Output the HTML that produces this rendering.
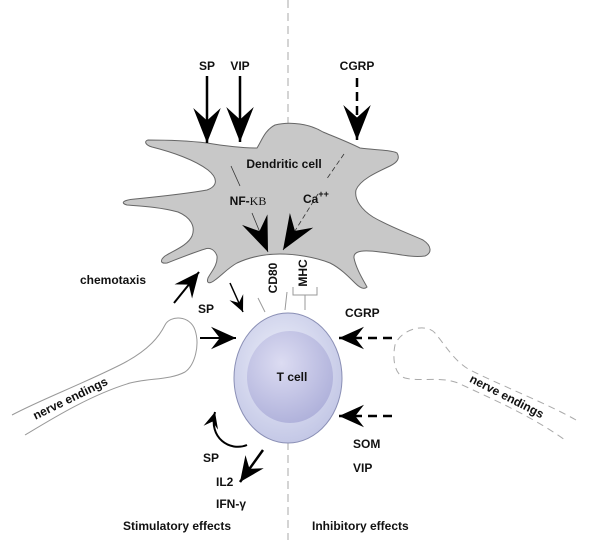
<!DOCTYPE html>
<html><head><style>
body{margin:0;background:#fff;}
svg{display:block;}
text{font-family:"Liberation Sans",sans-serif;font-weight:bold;font-size:12px;fill:#111;}
</style></head><body>
<svg width="600" height="551" viewBox="0 0 600 551" xmlns="http://www.w3.org/2000/svg">
<defs>
<marker id="big" markerUnits="userSpaceOnUse" markerWidth="40" markerHeight="40" refX="0" refY="0" orient="auto" viewBox="-30 -15 32 30">
<path d="M0,0 L-28,-11 L-18,0 L-28,11 Z" fill="#000"/>
</marker>
<marker id="med" markerUnits="userSpaceOnUse" markerWidth="30" markerHeight="30" refX="0" refY="0" orient="auto" viewBox="-22 -12 24 24">
<path d="M0,0 L-20,-9 L-13,0 L-20,9 Z" fill="#000"/>
</marker>
<marker id="sm" markerUnits="userSpaceOnUse" markerWidth="20" markerHeight="20" refX="0" refY="0" orient="auto" viewBox="-14 -8 16 16">
<path d="M0,0 L-13,-6 L-8,0 L-13,6 Z" fill="#000"/>
</marker>
<radialGradient id="tg" cx="0.45" cy="0.4" r="0.6">
<stop offset="0" stop-color="#eef0fa"/><stop offset="1" stop-color="#c4c8e6"/>
</radialGradient>
<radialGradient id="tg2" cx="0.4" cy="0.35" r="0.7">
<stop offset="0" stop-color="#dcdcf2"/><stop offset="1" stop-color="#aeb0da"/>
</radialGradient>
</defs>

<line x1="288" y1="0" x2="288" y2="125" stroke="#aaa" stroke-width="1" stroke-dasharray="8,5"/>
<line x1="288" y1="442" x2="288" y2="540" stroke="#aaa" stroke-width="1" stroke-dasharray="8,5"/>

<!-- dendritic cell -->
<path d="M148,140 C170,140 190,141 207,143 C225,146 245,148 257,148 C262,140 265,130 275,125 C290,121 310,124 323,132 C335,137 348,142 360,148 C375,150 392,150 397,153 C400,158 398,162 390,166 C375,173 360,180 356,190 C354,200 362,210 373,217 C390,227 410,234 423,240 C432,246 432,253 425,256 C410,258 395,253 380,252 C365,250 353,250 354,258 C356,268 362,278 367,287 C364,290 360,288 355,283 C348,276 340,268 330,263 C315,257 295,254 280,254 C265,254 250,257 237,263 C228,268 222,275 215,280 C210,284 206,284 208,278 C211,272 218,265 217,256 C215,250 210,247 205,249 C195,252 180,258 167,263 C160,264 160,260 165,256 C175,250 188,245 192,236 C196,226 190,217 178,212 C160,207 140,206 127,205 C120,203 123,200 135,199 C155,197 185,194 207,190 C218,186 218,178 208,170 C195,160 172,152 152,147 C145,145 144,141 148,140 Z" fill="#c8c8c8" stroke="#666" stroke-width="1"/>

<line x1="207" y1="76" x2="207" y2="143" stroke="#000" stroke-width="2.5" marker-end="url(#big)"/>
<line x1="240" y1="76" x2="240" y2="142" stroke="#000" stroke-width="2.5" marker-end="url(#big)"/>
<line x1="357" y1="78" x2="357" y2="140" stroke="#000" stroke-width="2.5" stroke-dasharray="9,5" marker-end="url(#big)"/>
<text x="207" y="70" text-anchor="middle">SP</text>
<text x="240" y="70" text-anchor="middle">VIP</text>
<text x="357" y="70" text-anchor="middle">CGRP</text>

<text x="284" y="168" text-anchor="middle" font-size="13">Dendritic cell</text>
<line x1="231" y1="166" x2="240" y2="186" stroke="#333" stroke-width="0.8"/>
<text x="248" y="205" text-anchor="middle">NF-<tspan font-family="Liberation Serif" font-weight="normal">KB</tspan></text>
<line x1="252" y1="213" x2="268" y2="252" stroke="#333" stroke-width="0.8" marker-end="url(#big)"/>
<text x="303" y="203">Ca<tspan dy="-6" font-size="9">++</tspan></text>
<line x1="344" y1="154" x2="326" y2="180" stroke="#333" stroke-width="0.8" stroke-dasharray="5,3"/>
<line x1="318" y1="194" x2="283" y2="250" stroke="#333" stroke-width="0.8" stroke-dasharray="5,3" marker-end="url(#big)"/>

<text x="80" y="284">chemotaxis</text>
<line x1="174" y1="303" x2="199" y2="272" stroke="#000" stroke-width="2" marker-end="url(#med)"/>
<line x1="230" y1="283" x2="243" y2="312" stroke="#000" stroke-width="1.5" marker-end="url(#sm)"/>
<text x="198" y="313">SP</text>

<text transform="translate(277,278) rotate(-90)" text-anchor="middle">CD80</text>
<text transform="translate(307,273) rotate(-90)" text-anchor="middle">MHC</text>
<line x1="258" y1="298" x2="265" y2="312" stroke="#999" stroke-width="1"/>
<line x1="287" y1="292" x2="285" y2="310" stroke="#999" stroke-width="1"/>
<path d="M293,287 V295 H317 V287 M305,295 V310" fill="none" stroke="#999" stroke-width="1"/>

<path d="M12,415 C40,400 80,385 120,365 C150,350 160,335 165,325 C170,315 190,315 195,330 C200,345 195,365 185,372 C170,380 150,378 130,383 C90,395 50,420 25,435" fill="none" stroke="#999" stroke-width="1"/>
<text transform="translate(72,402) rotate(-26)" text-anchor="middle" font-size="13">nerve endings</text>

<path d="M576,420 C550,405 500,385 470,370 C455,362 445,345 435,333 C425,322 400,330 395,345 C392,360 395,375 405,378 C420,382 440,376 458,383 C490,398 530,415 565,440" fill="none" stroke="#aaa" stroke-width="1" stroke-dasharray="7,5"/>
<text transform="translate(505,400) rotate(27)" text-anchor="middle" font-size="13">nerve endings</text>

<ellipse cx="288" cy="378" rx="54" ry="65" fill="url(#tg)" stroke="#8a8fb5" stroke-width="1"/>
<ellipse cx="290" cy="377" rx="43" ry="46" fill="url(#tg2)"/>
<text x="292" y="381" text-anchor="middle" font-size="13">T cell</text>

<line x1="200" y1="338" x2="236" y2="338" stroke="#000" stroke-width="2" marker-end="url(#med)"/>
<line x1="392" y1="338" x2="339" y2="338" stroke="#000" stroke-width="2.5" stroke-dasharray="9,6" marker-end="url(#med)"/>
<text x="345" y="317">CGRP</text>
<line x1="392" y1="416" x2="339" y2="416" stroke="#000" stroke-width="2.5" stroke-dasharray="9,6" marker-end="url(#med)"/>
<text x="353" y="448">SOM</text>
<text x="353" y="472">VIP</text>

<path d="M247,445 C230,452 208,438 215,412" fill="none" stroke="#000" stroke-width="2" marker-end="url(#sm)"/>
<text x="203" y="462">SP</text>
<line x1="263" y1="450" x2="240" y2="482" stroke="#000" stroke-width="2.5" marker-end="url(#med)"/>
<text x="216" y="486">IL2</text>
<text x="216" y="508">IFN-γ</text>

<text x="123" y="530" font-size="13">Stimulatory effects</text>
<text x="312" y="530" font-size="13">Inhibitory effects</text>
</svg>
</body></html>
